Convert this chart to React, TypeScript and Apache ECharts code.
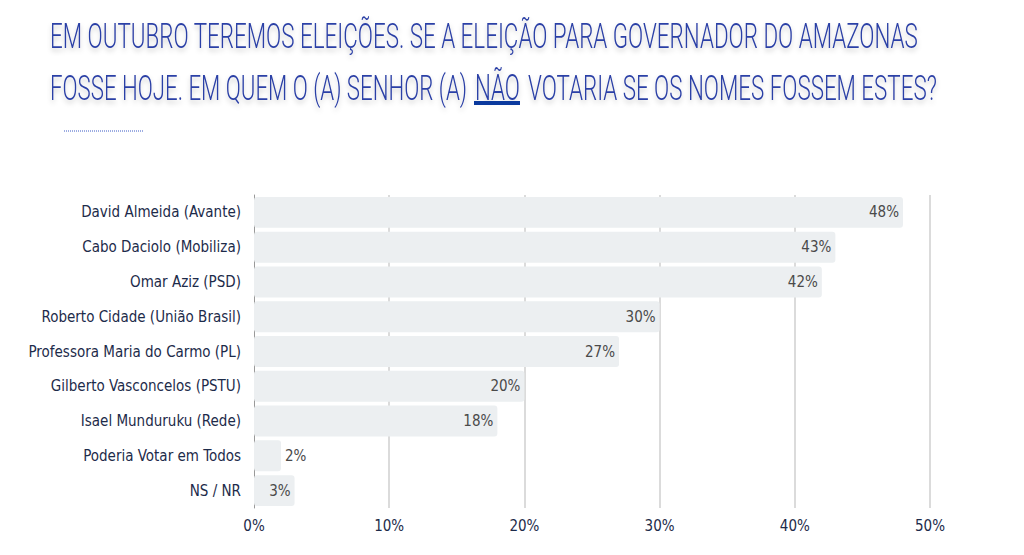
import React, { useEffect, useRef } from "react";
import * as echarts from "echarts";

const categories = [
  "David Almeida (Avante)",
  "Cabo Daciolo (Mobiliza)",
  "Omar Aziz (PSD)",
  "Roberto Cidade (União Brasil)",
  "Professora Maria do Carmo (PL)",
  "Gilberto Vasconcelos (PSTU)",
  "Isael Munduruku (Rede)",
  "Poderia Votar em Todos",
  "NS / NR",
];
const values = [48, 43, 42, 30, 27, 20, 18, 2, 3];
const titleLine1 = "EM OUTUBRO TEREMOS ELEIÇÕES. SE A ELEIÇÃO PARA GOVERNADOR DO AMAZONAS";
const titleLine2a = "FOSSE HOJE. EM QUEM O (A) SENHOR (A)";
const titleLine2b = "NÃO";
const titleLine2c = "VOTARIA SE OS NOMES FOSSEM ESTES?";

const TITLE_FONT = "Roboto, 'DejaVu Sans', sans-serif";
const TITLE_SIZE = 36;
const TITLE_WEIGHT = 300;
const LABEL_FONT = "'DejaVu Sans Condensed', 'Liberation Sans Narrow', sans-serif";

function measure(text: string): number {
  const c = document.createElement("canvas").getContext("2d");
  if (!c) return text.length * 20;
  c.font = `${TITLE_WEIGHT} ${TITLE_SIZE}px ${TITLE_FONT}`;
  return c.measureText(text).width;
}

function titleText(text: string, x: number, y: number, targetWidth: number) {
  const w = measure(text);
  return {
    type: "text",
    x,
    y,
    scaleX: targetWidth / w,
    style: {
      text,
      fill: "#2c40a6",
      font: `${TITLE_WEIGHT} ${TITLE_SIZE}px ${TITLE_FONT}`,
      textVerticalAlign: "middle",
      verticalAlign: "middle",
      align: "left",
      textShadowColor: "rgba(0,0,0,0.22)",
      textShadowBlur: 5,
      textShadowOffsetY: 3,
    },
  };
}

export default function App() {
  const ref = useRef<HTMLDivElement>(null);
  useEffect(() => {
    document.body.style.margin = "0";
    if (!ref.current) return;
    const chart = echarts.init(ref.current, undefined, { renderer: "svg" });
    chart.setOption({
      animation: false,
      backgroundColor: "#ffffff",
      graphic: [
        titleText(titleLine1, 50, 35, 868),
        titleText(titleLine2a, 50, 87, 417),
        titleText(titleLine2b, 475, 87, 45),
        titleText(titleLine2c, 528, 87, 409),
        {
          type: "rect",
          shape: { x: 474, y: 101, width: 46, height: 4 },
          style: { fill: "#0b3a9e" },
        },
        {
          type: "line",
          shape: { x1: 64, y1: 131, x2: 143, y2: 131 },
          style: { stroke: "#3b5bc4", lineWidth: 1, lineDash: [1, 1] },
        },
      ],
      grid: { left: 254, right: 94, top: 195, bottom: 47, containLabel: false },
      xAxis: {
        type: "value",
        min: 0,
        max: 50,
        interval: 10,
        axisLine: { show: false },
        axisTick: { show: false },
        axisLabel: {
          formatter: "{value}%",
          color: "#1d2b4a",
          fontFamily: LABEL_FONT,
          fontSize: 15,
          margin: 10,
        },
        splitLine: { show: true, showMinLine: false, lineStyle: { color: "#cfcfcf", width: 1.5 } },
      },
      yAxis: {
        type: "category",
        data: categories,
        inverse: true,
        axisLine: { show: true, lineStyle: { color: "#999999", width: 1 } },
        axisTick: { show: false },
        axisLabel: {
          color: "#1d2b4a",
          fontFamily: LABEL_FONT,
          fontSize: 15,
          margin: 13,
        },
      },
      series: [
        {
          type: "bar",
          data: values.map((v) => ({
            value: v,
            label: { position: v < 3 ? "right" : "insideRight" },
          })),
          barCategoryGap: "11%",
          itemStyle: { color: "#eceff1", borderRadius: 3 },
          label: {
            show: true,
            formatter: "{c}%",
            color: "#4a4a4a",
            fontFamily: LABEL_FONT,
            fontSize: 15,
            distance: 4,
          },
        },
      ],
    });
    return () => chart.dispose();
  }, []);
  return (
    <div
      ref={ref}
      style={{ position: "absolute", left: 0, top: 0, width: 1024, height: 555 }}
    />
  );
}
